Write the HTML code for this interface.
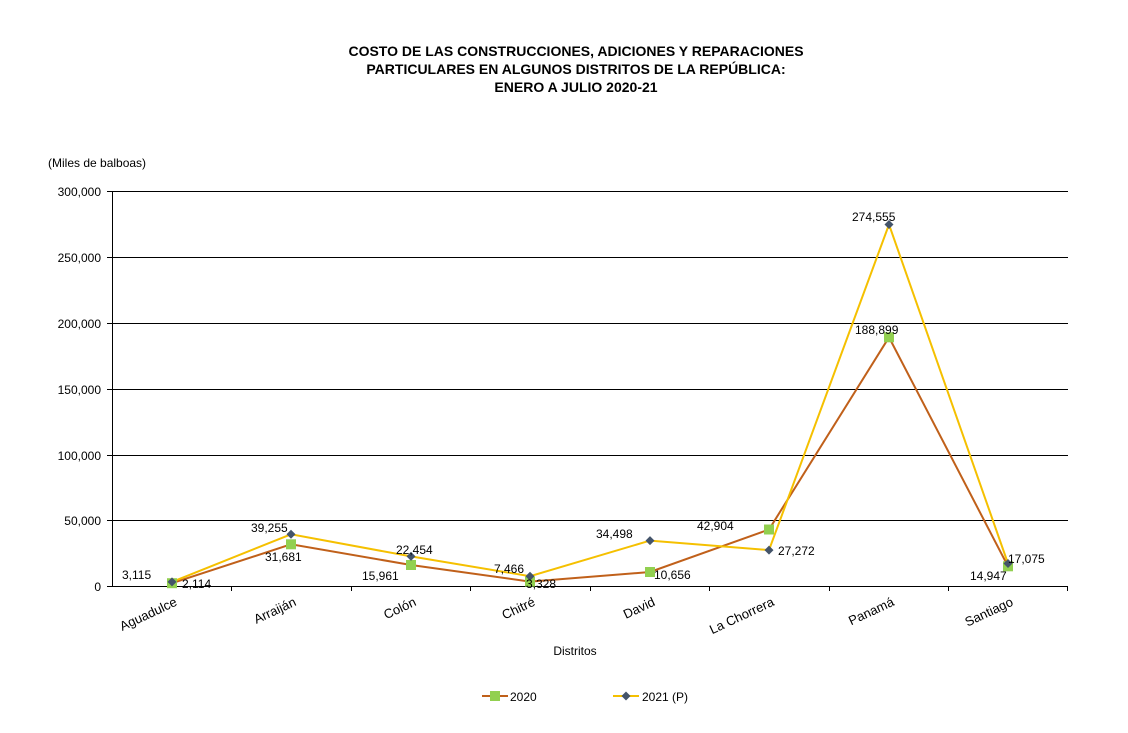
<!DOCTYPE html>
<html><head><meta charset="utf-8"><style>body{margin:0;background:#fff}svg{display:block;font-family:"Liberation Sans",Arial,sans-serif}</style></head><body>
<svg width="1128" height="733" viewBox="0 0 1128 733">
<g font-weight="bold" font-size="14" text-anchor="middle" fill="#000">
<text x="576" y="56">COSTO DE LAS CONSTRUCCIONES, ADICIONES Y REPARACIONES</text>
<text x="576" y="74">PARTICULARES EN ALGUNOS DISTRITOS DE LA REPÚBLICA:</text>
<text x="576" y="92">ENERO A JULIO 2020-21</text>
</g>
<text x="48" y="167" font-size="12">(Miles de balboas)</text>
<g stroke="#000" stroke-width="1">
<line x1="112" y1="191.5" x2="1068" y2="191.5"/><line x1="112" y1="257.5" x2="1068" y2="257.5"/><line x1="112" y1="323.5" x2="1068" y2="323.5"/><line x1="112" y1="389.5" x2="1068" y2="389.5"/><line x1="112" y1="455.5" x2="1068" y2="455.5"/><line x1="112" y1="520.5" x2="1068" y2="520.5"/><line x1="112" y1="586.5" x2="1068" y2="586.5"/>
<line x1="112.5" y1="191" x2="112.5" y2="587"/>
<line x1="107" y1="191.5" x2="112" y2="191.5"/><line x1="107" y1="257.5" x2="112" y2="257.5"/><line x1="107" y1="323.5" x2="112" y2="323.5"/><line x1="107" y1="389.5" x2="112" y2="389.5"/><line x1="107" y1="455.5" x2="112" y2="455.5"/><line x1="107" y1="520.5" x2="112" y2="520.5"/><line x1="107" y1="586.5" x2="112" y2="586.5"/>
<line x1="231.5" y1="586" x2="231.5" y2="591"/><line x1="351.5" y1="586" x2="351.5" y2="591"/><line x1="470.5" y1="586" x2="470.5" y2="591"/><line x1="590.5" y1="586" x2="590.5" y2="591"/><line x1="709.5" y1="586" x2="709.5" y2="591"/><line x1="829.5" y1="586" x2="829.5" y2="591"/><line x1="948.5" y1="586" x2="948.5" y2="591"/><line x1="1067.5" y1="586" x2="1067.5" y2="591"/>
</g>
<g font-size="12" text-anchor="end">
<text x="101" y="196">300,000</text><text x="101" y="262">250,000</text><text x="101" y="328">200,000</text><text x="101" y="394">150,000</text><text x="101" y="460">100,000</text><text x="101" y="525">50,000</text><text x="101" y="591">0</text>
</g>
<g font-size="13" text-anchor="end">
<text transform="translate(178,605) rotate(-25)">Aguadulce</text>
<text transform="translate(297,605) rotate(-25)">Arraiján</text>
<text transform="translate(417,605) rotate(-25)">Colón</text>
<text transform="translate(536,605) rotate(-25)">Chitré</text>
<text transform="translate(656,605) rotate(-25)">David</text>
<text transform="translate(775,605) rotate(-25)">La Chorrera</text>
<text transform="translate(895,605) rotate(-25)">Panamá</text>
<text transform="translate(1014,605) rotate(-25)">Santiago</text>
</g>
<text x="575" y="655" font-size="12" text-anchor="middle">Distritos</text>
<polyline fill="none" stroke="#c0601a" stroke-width="2" points="172,583.2 291,544.3 411,565 530,581.6 650,572 769,529.5 889,337.3 1008,566.3"/>
<polyline fill="none" stroke="#f5c000" stroke-width="2" points="172,581.9 291,534.3 411,556.4 530,576.2 650,540.6 769,550.1 889,224.5 1008,563.5"/>
<g fill="#92d050">
<rect x="167" y="578.2" width="10" height="10"/><rect x="286" y="539.3" width="10" height="10"/><rect x="406" y="560" width="10" height="10"/><rect x="525" y="576.6" width="10" height="10"/><rect x="645" y="567" width="10" height="10"/><rect x="764" y="524.5" width="10" height="10"/><rect x="884" y="332.3" width="10" height="10"/><rect x="1003" y="561.3" width="10" height="10"/>
</g>
<g fill="#44546a">
<path d="M172 577.4l4.5 4.5-4.5 4.5-4.5-4.5z"/><path d="M291 529.8l4.5 4.5-4.5 4.5-4.5-4.5z"/><path d="M411 551.9l4.5 4.5-4.5 4.5-4.5-4.5z"/><path d="M530 571.7l4.5 4.5-4.5 4.5-4.5-4.5z"/><path d="M650 536.1l4.5 4.5-4.5 4.5-4.5-4.5z"/><path d="M769 545.6l4.5 4.5-4.5 4.5-4.5-4.5z"/><path d="M889 220l4.5 4.5-4.5 4.5-4.5-4.5z"/><path d="M1008 559l4.5 4.5-4.5 4.5-4.5-4.5z"/>
</g>
<g font-size="12">
<text x="122" y="579">3,115</text><text x="182" y="588">2,114</text>
<text x="251" y="532">39,255</text><text x="265" y="561">31,681</text>
<text x="396" y="554">22,454</text><text x="362" y="580">15,961</text>
<text x="494" y="573">7,466</text><text x="526" y="588">3,328</text>
<text x="596" y="538">34,498</text><text x="654" y="579">10,656</text>
<text x="697" y="530">42,904</text><text x="778" y="555">27,272</text>
<text x="852" y="221">274,555</text><text x="855" y="334">188,899</text>
<text x="1008" y="563">17,075</text><text x="970" y="580">14,947</text>
</g>
<line x1="482" y1="696" x2="508" y2="696" stroke="#c0601a" stroke-width="2"/>
<rect x="490" y="691" width="10" height="10" fill="#92d050"/>
<text x="510" y="701" font-size="12">2020</text>
<line x1="613" y1="696" x2="639" y2="696" stroke="#f5c000" stroke-width="2"/>
<path d="M626 691.5l4.5 4.5-4.5 4.5-4.5-4.5z" fill="#44546a"/>
<text x="642" y="701" font-size="12">2021 (P)</text>
</svg>
</body></html>
